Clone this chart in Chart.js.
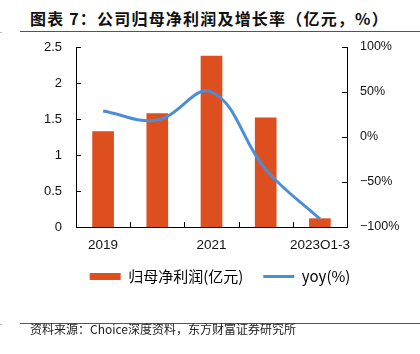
<!DOCTYPE html>
<html>
<head>
<meta charset="utf-8">
<script src="https://cdn.jsdelivr.net/npm/chart.js@4/dist/chart.umd.min.js"></script>
<style>
  body { margin: 0; width: 420px; height: 354px; background: #fff; position: relative; overflow: hidden; font-family: "Noto Sans CJK SC", sans-serif; }
  #title { position: absolute; left: 30px; top: 7px; font-size: 16px; font-weight: bold; color: #111; white-space: nowrap; letter-spacing: 1.2px; line-height: 22px; }
  .rule { position: absolute; left: 20px; right: 0; height: 1px; background: #555; }
  .dot { position: absolute; left: 0; width: 2px; height: 1px; background: #bbb; }
  #src { position: absolute; left: 30px; top: 321px; font-size: 12px; color: #222; line-height: 16px; white-space: nowrap; }
  #wrap { position: absolute; left: 0; top: 0; width: 420px; height: 354px; }
</style>
</head>
<body>
<div id="title">图表 7：公司归母净利润及增长率（亿元，%）</div>
<div class="rule" style="top:31px"></div>
<div class="dot" style="top:32px"></div>
<div id="wrap"><canvas id="myChart" width="420" height="354"></canvas></div>
<div class="rule" style="top:323px"></div>
<div class="dot" style="top:324px"></div>
<div id="src">资料来源：Choice深度资料，东方财富证券研究所</div>

<script>
// categories on the x axis
let categories = ['2019', '2020', '2021', '2022', '2023Q1-3'];
// only these are printed under the axis
let shownLabels = ['2019', '2021', '2023Q1-3'];
// 归母净利润, 亿元 (left axis)
let netProfit = [1.33, 1.58, 2.38, 1.52, 0.12];
// yoy growth, % (right axis)
let yoy = [29, 19, 50, -36, -91];

let barColor = '#DD4F1F';
let lineColor = '#4C8DD8';

// small tick marks that point into the plot, like the original
const innerTicks = {
    id: 'innerTicks',
    afterDraw(chart) {
        const {ctx, chartArea: a, scales} = chart;
        const x = scales.x, y = scales.y, y1 = scales.y1;
        ctx.save();
        ctx.strokeStyle = '#000';
        ctx.lineWidth = 1;
        ctx.beginPath();
        y.ticks.forEach((t, i) => {
            const py = Math.round(y.getPixelForTick(i)) + 0.5;
            ctx.moveTo(a.left, py);
            ctx.lineTo(a.left + 5, py);
        });
        y1.ticks.forEach((t, i) => {
            const py = Math.round(y1.getPixelForTick(i)) + 0.5;
            ctx.moveTo(a.right, py);
            ctx.lineTo(a.right - 5, py);
        });
        for (let i = 0; i < x.ticks.length - 1; i++) {
            const px = Math.round((x.getPixelForTick(i) + x.getPixelForTick(i + 1)) / 2) + 0.5;
            ctx.moveTo(px, a.bottom);
            ctx.lineTo(px, a.bottom - 5);
        }
        ctx.stroke();
        ctx.restore();
    }
};

let ctx1 = document.getElementById('myChart').getContext('2d');

let chart1 = new Chart(ctx1, {
    type: 'bar',
    data: {
        labels: categories,
        datasets: [{
            type: 'line',
            label: 'yoy(%)',
            data: yoy,
            yAxisID: 'y1',
            borderColor: lineColor,
            backgroundColor: lineColor,
            borderWidth: 3,
            pointRadius: 0,
            tension: 0.4,
            order: 0
        }, {
            type: 'bar',
            label: '归母净利润(亿元)',
            data: netProfit,
            yAxisID: 'y',
            backgroundColor: barColor,
            barPercentage: 0.4,
            categoryPercentage: 1.0,
            order: 1
        }]
    },
    options: {
        responsive: false,
        animation: false,
        layout: { padding: { left: 20, right: 0, top: 47, bottom: 60 } },
        plugins: {
            title: { display: false },
            tooltip: { enabled: false },
            legend: {
                position: 'bottom',
                labels: {
                    usePointStyle: true,
                    pointStyleWidth: 31,
                    boxHeight: 7,
                    padding: 20,
                    color: '#111',
                    font: { family: '"Noto Sans CJK SC", sans-serif', size: 15 },
                    generateLabels: () => [
                        { text: '归母净利润(亿元)', pointStyle: 'rect', fillStyle: barColor, strokeStyle: barColor, lineWidth: 0, datasetIndex: 1 },
                        { text: 'yoy(%)', pointStyle: 'line', fillStyle: lineColor, strokeStyle: lineColor, lineWidth: 3, datasetIndex: 0 }
                    ]
                }
            }
        },
        scales: {
            x: {
                grid: { display: false, drawTicks: false },
                border: { display: true, color: '#000', width: 1 },
                afterFit: (s) => { s.height = 22; },
                ticks: {
                    autoSkip: false,
                    maxRotation: 0,
                    padding: 10,
                    color: '#111',
                    font: { family: '"Liberation Sans", Arial, sans-serif', size: 13.5 },
                    callback: (v, i) => shownLabels.includes(categories[i]) ? categories[i] : ''
                }
            },
            y: {
                position: 'left',
                min: 0,
                max: 2.5,
                grid: { display: false, drawTicks: false },
                border: { display: true, color: '#000', width: 1 },
                afterFit: (s) => { s.width = 56; },
                ticks: {
                    stepSize: 0.5,
                    padding: 14,
                    color: '#111',
                    font: { family: '"Liberation Sans", Arial, sans-serif', size: 13 },
                    callback: (v) => String(v)
                }
            },
            y1: {
                position: 'right',
                min: -100,
                max: 100,
                grid: { display: false, drawTicks: false },
                border: { display: true, color: '#000', width: 1 },
                afterFit: (s) => { s.width = 73; },
                ticks: {
                    stepSize: 50,
                    padding: 13,
                    color: '#111',
                    font: { family: '"Liberation Sans", Arial, sans-serif', size: 12.5 },
                    callback: (v) => (v < 0 ? '\u2212' + Math.abs(v) : v) + '%'
                }
            }
        }
    },
    plugins: [innerTicks]
});
</script>
</body>
</html>
